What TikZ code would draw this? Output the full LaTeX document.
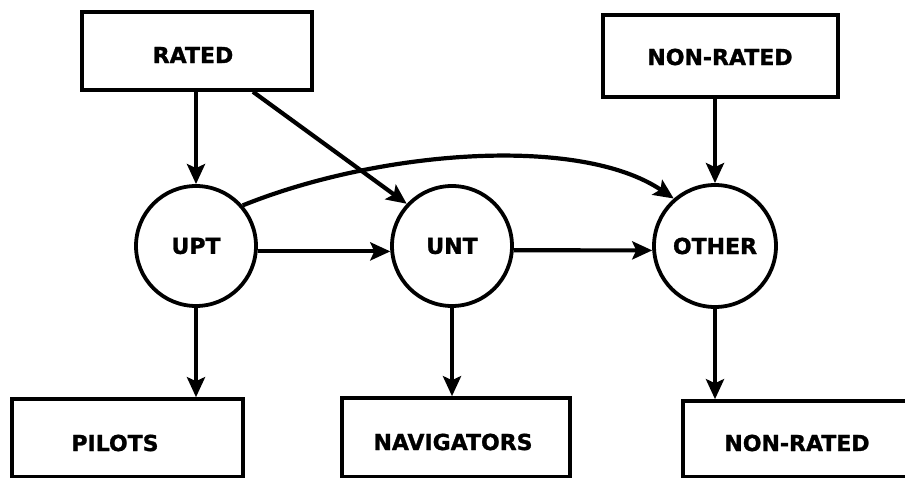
\documentclass[tikz,border=0pt]{standalone}
\usepackage{fontspec}
\setmainfont{DejaVu Sans}
\newfontfamily\heavyfont[FakeBold=1.2]{DejaVu Sans Bold}
\usetikzlibrary{arrows.meta,calc}

\tikzset{
  lbl/.style={font=\fontsize{22}{22}\heavyfont, inner sep=0pt},
  box/.style={draw, rectangle, line width=3.6pt, inner sep=0pt},
  stage/.style={draw, circle, line width=3.8pt, minimum size=120pt, inner sep=0pt,
    font=\fontsize{22}{22}\heavyfont},
  flow/.style={line width=4.2pt, -{Stealth[length=20pt, width=18pt, inset=4pt]}},
}

\begin{document}
\begin{tikzpicture}[x=1pt, y=-1pt]
  \useasboundingbox (0,0) rectangle (905,478);

  % sources
  \node[box, minimum width=230pt, minimum height=78pt] (rated) at (197,51) {};
  \node[lbl] (ratedtxt) at (193,55) {RATED};
  \node[box, minimum width=235pt, minimum height=82pt] (nrtop) at (720.5,56) {};
  \node[lbl] (nrtoptxt) at (720,57) {NON-RATED};

  % training stages
  \node[stage] (upt) at (196,246) {UPT};
  \node[stage] (unt) at (452,246) {UNT};
  \node[stage, minimum size=122pt] (other) at (715,246) {OTHER};

  % outcomes
  \node[box, minimum width=231pt, minimum height=78pt] (pilots) at (127.5,438) {};
  \node[lbl] (pilotstxt) at (115,443) {PILOTS};
  \node[box, minimum width=228pt, minimum height=79pt] (nav) at (456,437.5) {};
  \node[lbl] (navtxt) at (453,442) {NAVIGATORS};
  \node[box, minimum width=228pt, minimum height=76pt] (nrbot) at (797,439) {};
  \node[lbl] (nrbottxt) at (797,443) {NON-RATED};

  % connectors
  \draw[flow] (rated.south -| upt.north) -- (upt.north);
  \draw[flow] ([xshift=56pt]rated.south) -- (unt.137);
  \draw[flow] (upt.41) .. controls (380,150) and (580,135) .. (other.131);
  \draw[flow] (nrtop.south -| other.north) -- (other.north);
  \draw[flow] (upt.-5) -- (unt.185);
  \draw[flow] (unt.-4) -- (other.184);
  \draw[flow] (upt.south) -- (upt.south |- pilots.north);
  \draw[flow] (unt.south) -- (unt.south |- nav.north);
  \draw[flow] (other.south) -- (other.south |- nrbot.north);
\end{tikzpicture}
\end{document}
